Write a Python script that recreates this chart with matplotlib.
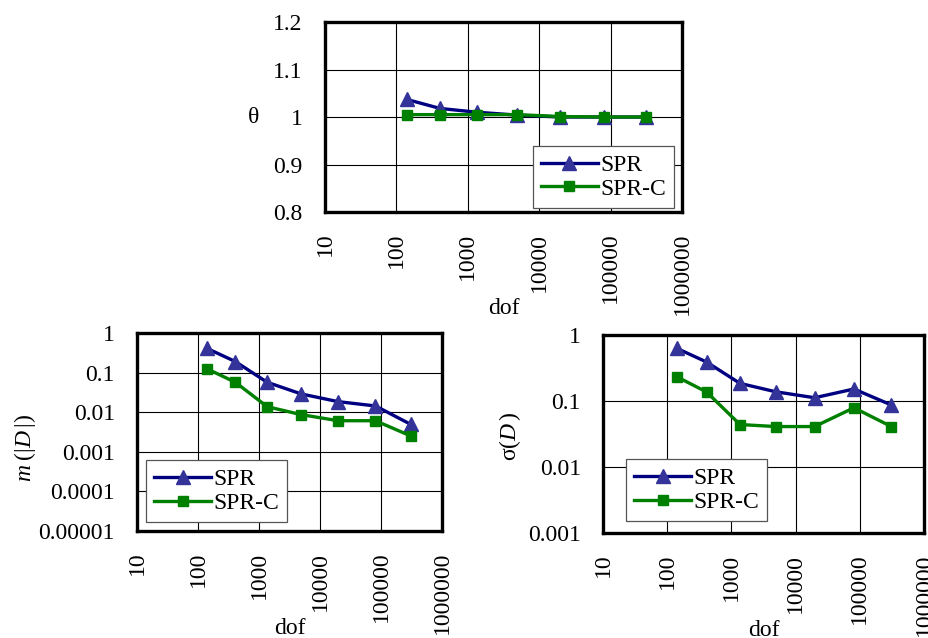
import numpy as np
import matplotlib
matplotlib.use("Agg")
import matplotlib.pyplot as plt
from matplotlib.ticker import FixedLocator, FuncFormatter, NullLocator

plt.rcParams['font.family'] = ['Liberation Serif', 'DejaVu Serif']
plt.rcParams['mathtext.fontset'] = 'custom'
plt.rcParams['mathtext.rm'] = 'Liberation Serif'
plt.rcParams['mathtext.it'] = 'Liberation Serif:italic'

# degrees of freedom for each mesh
dof = [140, 410, 1360, 4900, 19800, 81000, 310000]

# effectivity index
theta_spr = [1.037, 1.018, 1.010, 1.004, 1.000, 1.000, 1.000]
theta_sprc = [1.005, 1.005, 1.005, 1.005, 1.001, 1.000, 1.000]

# mean of |D|
mean_spr = [0.41, 0.19, 0.057, 0.029, 0.0185, 0.0144, 0.0049]
mean_sprc = [0.125, 0.057, 0.0138, 0.0087, 0.0061, 0.0061, 0.0025]

# standard deviation of D
std_spr = [0.63, 0.39, 0.185, 0.138, 0.112, 0.152, 0.087]
std_sprc = [0.234, 0.137, 0.044, 0.041, 0.041, 0.079, 0.041]

xticks = [10, 100, 1000, 10000, 100000, 1000000]

FS = 17
SPR_LINE = '#000080'
SPR_MARK = '#333399'
SPRC = '#008000'


def fmt(v, pos=None):
    return ('%.6f' % v).rstrip('0').rstrip('.')


def setup(ax, yticks, ylog):
    ax.set_xscale('log')
    if ylog:
        ax.set_yscale('log')
    ax.set_xlim(xticks[0], xticks[-1])
    ax.set_ylim(yticks[0], yticks[-1])
    ax.xaxis.set_major_locator(FixedLocator(xticks))
    ax.xaxis.set_minor_locator(NullLocator())
    ax.yaxis.set_major_locator(FixedLocator(yticks))
    ax.yaxis.set_minor_locator(NullLocator())
    ax.xaxis.set_major_formatter(FuncFormatter(lambda v, p: '%d' % round(v)))
    ax.yaxis.set_major_formatter(FuncFormatter(fmt))
    ax.tick_params(axis='x', length=0, pad=15, labelsize=FS, labelrotation=90)
    ax.tick_params(axis='y', length=0, pad=16, labelsize=FS)
    ax.grid(True, color='black', linewidth=0.8)
    ax.set_axisbelow(True)
    for s in ax.spines.values():
        s.set_linewidth(2.4)


def draw(ax, y1, y2, legend_anchor, legend_loc):
    ax.plot(dof, y1, color=SPR_LINE, linewidth=2.4, marker='^', markersize=10,
            markerfacecolor=SPR_MARK, markeredgecolor=SPR_MARK, label='SPR', zorder=3)
    ax.plot(dof, y2, color=SPRC, linewidth=2.4, marker='s', markersize=7.5,
            markerfacecolor=SPRC, markeredgecolor=SPRC, label='SPR-C', zorder=3)
    leg = ax.legend(loc=legend_loc, bbox_to_anchor=legend_anchor, fontsize=FS,
                    fancybox=False, framealpha=1, edgecolor='#555555',
                    borderaxespad=0, handlelength=2.4, handletextpad=0.1,
                    labelspacing=0.1, borderpad=0.35)
    leg.get_frame().set_linewidth(0.9)


fig = plt.figure(figsize=(9.29, 6.38), dpi=100)

ax_top = fig.add_axes([0.3498, 0.6677, 0.3843, 0.2978])
setup(ax_top, [0.8, 0.9, 1.0, 1.1, 1.2], False)
draw(ax_top, theta_spr, theta_sprc, (0.978, 0.021), 'lower right')
ax_top.set_ylabel('θ', fontsize=FS, rotation=0, va='center', ha='center')
ax_top.yaxis.set_label_coords(-0.20, 0.5)
ax_top.set_xlabel('dof', fontsize=FS, va='top')
ax_top.xaxis.set_label_coords(0.5, -0.455)

ax_m = fig.add_axes([0.1475, 0.1677, 0.3283, 0.3103])
setup(ax_m, [1e-5, 1e-4, 1e-3, 1e-2, 1e-1, 1], True)
draw(ax_m, mean_spr, mean_sprc, (0.03, 0.045), 'lower left')
ax_m.set_ylabel(r'$m\;(|D\,|)$', fontsize=FS, va='center', ha='center')
ax_m.yaxis.set_label_coords(-0.367, 0.42)
ax_m.set_xlabel('dof', fontsize=FS, va='top')
ax_m.xaxis.set_label_coords(0.5, -0.44)

ax_s = fig.add_axes([0.6491, 0.1646, 0.3455, 0.3103])
setup(ax_s, [1e-3, 1e-2, 1e-1, 1], True)
draw(ax_s, std_spr, std_sprc, (0.072, 0.06), 'lower left')
ax_s.set_ylabel(r'σ($D\,$)', fontsize=FS, va='center', ha='center')
ax_s.yaxis.set_label_coords(-0.29, 0.49)
ax_s.set_xlabel('dof', fontsize=FS, va='top')
ax_s.xaxis.set_label_coords(0.5, -0.44)

fig.savefig('out.png', dpi=100)
